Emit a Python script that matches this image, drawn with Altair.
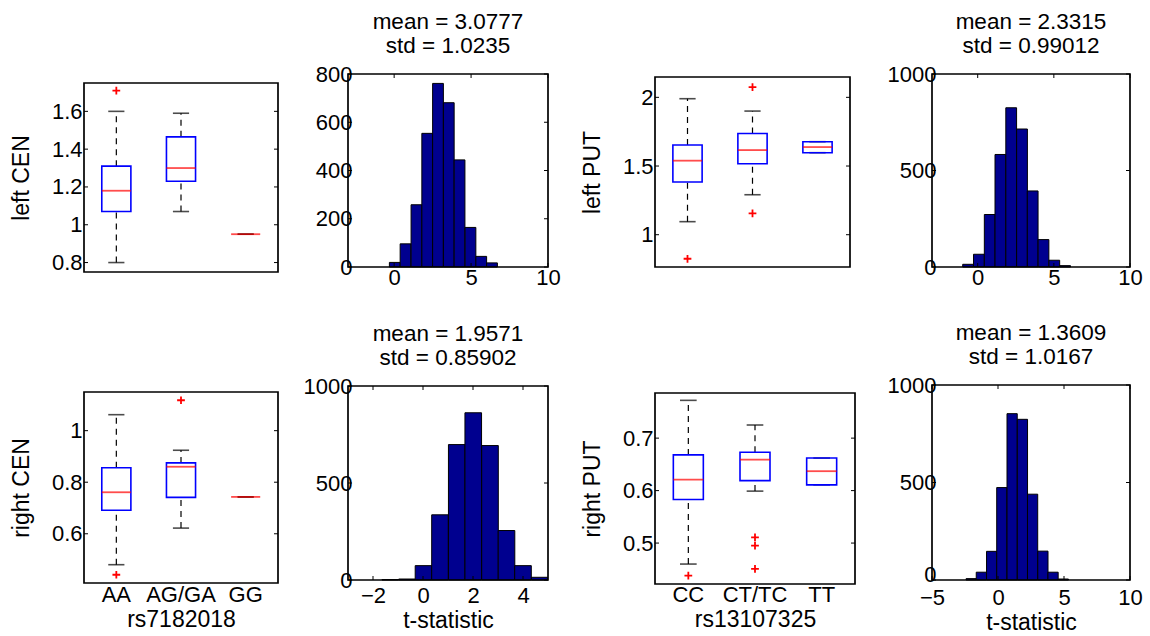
import altair as alt
import pandas as pd

FONT = "Liberation Sans"
TICK_FS = 22
TITLE_FS = 23
HEAD_FS = 22.5
BAR_BLUE = "#00008f"
BOX_BLUE = "#0000ff"
RED = "#ff0000"
PLUS = "M-1,0H1M0,-1V1"
NUM = ".6~g"

# ---------------- genotype groups ----------------
cen_groups = ["AA", "AG/GA", "GG"]
put_groups = ["CC", "CT/TC", "TT"]

# box summaries: lower whisker, q1, median, q3, upper whisker
left_cen_lo = [0.80, 1.07, 0.95]
left_cen_q1 = [1.07, 1.23, 0.95]
left_cen_med = [1.18, 1.30, 0.95]
left_cen_q3 = [1.31, 1.465, 0.95]
left_cen_hi = [1.60, 1.59, 0.95]
left_cen_out_g = ["AA"]
left_cen_out_v = [1.71]

left_put_lo = [1.095, 1.291, 1.597]
left_put_q1 = [1.384, 1.517, 1.597]
left_put_med = [1.539, 1.616, 1.638]
left_put_q3 = [1.653, 1.737, 1.677]
left_put_hi = [1.99, 1.90, 1.677]
left_put_out_g = ["CC", "CT/TC", "CT/TC"]
left_put_out_v = [0.825, 2.075, 1.155]

right_cen_lo = [0.480, 0.622, 0.743]
right_cen_q1 = [0.691, 0.741, 0.743]
right_cen_med = [0.761, 0.860, 0.743]
right_cen_q3 = [0.856, 0.875, 0.743]
right_cen_hi = [1.062, 0.924, 0.743]
right_cen_out_g = ["AA", "AG/GA"]
right_cen_out_v = [0.441, 1.118]

right_put_lo = [0.460, 0.599, 0.611]
right_put_q1 = [0.583, 0.619, 0.611]
right_put_med = [0.621, 0.659, 0.637]
right_put_q3 = [0.668, 0.673, 0.662]
right_put_hi = [0.772, 0.725, 0.662]
right_put_out_g = ["CC", "CT/TC", "CT/TC", "CT/TC"]
right_put_out_v = [0.438, 0.511, 0.495, 0.451]

# ---------------- permutation t-statistic histograms ----------------
lc_centers = [0.04, 0.74, 1.45, 2.15, 2.85, 3.55, 4.25, 4.96, 5.66, 6.36]
lc_counts = [19, 96, 258, 554, 761, 681, 444, 164, 44, 17]
lc_binw = 0.70

lp_centers = [-0.63, 0.08, 0.79, 1.49, 2.20, 2.91, 3.61, 4.32, 5.03, 5.74]
lp_counts = [14, 66, 272, 583, 825, 715, 394, 142, 35, 7]
lp_binw = 0.707

rc_centers = [-1.31, -0.64, 0.02, 0.68, 1.35, 2.01, 2.68, 3.34, 4.00, 4.67]
rc_counts = [2, 5, 74, 336, 698, 862, 693, 255, 74, 14]
rc_binw = 0.664

rp_centers = [-2.03, -1.26, -0.48, 0.29, 1.07, 1.85, 2.62, 3.40, 4.17, 4.95]
rp_counts = [7, 40, 147, 474, 853, 824, 440, 148, 40, 5]
rp_binw = 0.776


def frame_and_ticks(width, ydomain, yscale, yaxis, yticks,
                    xscale=None, xaxis=None, xticks=None, top_px=0, bot_px=0):
    """Axes box plus short inward tick marks on every side."""
    layers = []
    fr = pd.DataFrame({"b": [ydomain[0]], "t": [ydomain[1]]})
    layers.append(
        alt.Chart(fr).mark_rect(fillOpacity=0, stroke="black", strokeWidth=1.7).encode(
            x=alt.value(0), x2=alt.value(width),
            y=alt.Y("b:Q", scale=yscale, axis=yaxis), y2="t:Q")
    )
    yt = pd.DataFrame({"v": yticks})
    for a, b in ((0, 4), (width - 4, width)):
        layers.append(
            alt.Chart(yt).mark_rule(color="black", strokeWidth=1).encode(
                x=alt.value(a), x2=alt.value(b), y=alt.Y("v:Q", scale=yscale, axis=yaxis))
        )
    if xticks is not None:
        xt = pd.DataFrame({"v": xticks})
        for a, b in ((top_px, top_px + 4), (bot_px - 4, bot_px)):
            layers.append(
                alt.Chart(xt).mark_rule(color="black", strokeWidth=1).encode(
                    y=alt.value(a), y2=alt.value(b), x=alt.X("v:Q", scale=xscale, axis=xaxis))
            )
    return layers


def box_panel(groups, lo, q1, med, q3, hi, out_g, out_v, width, height, yrange, ydomain,
              yticks, ytitle, xtitle=None):
    band = width / len(groups)
    df = pd.DataFrame({"g": groups, "lo": lo, "q1": q1, "med": med, "q3": q3, "hi": hi})
    outs = pd.DataFrame({"g": out_g, "v": out_v})
    xscale = alt.Scale(type="band", domain=groups, paddingInner=0, paddingOuter=0)
    yscale = alt.Scale(domain=ydomain, range=yrange, nice=False, zero=False)
    if xtitle is None:
        xaxis = None
    else:
        xaxis = alt.Axis(title=xtitle, labelAngle=0, labelPadding=0, titlePadding=3)
    yaxis = alt.Axis(values=yticks, format=NUM, title=ytitle, titleX=-51, labelPadding=2)
    X = alt.X("g:N", sort=groups, scale=xscale, axis=xaxis)

    def Y(field):
        return alt.Y(field, scale=yscale, axis=yaxis)

    base = alt.Chart(df)
    dash = dict(color="black", strokeWidth=1.2, strokeDash=[6, 5])
    whisk_lo = base.mark_rule(**dash).encode(x=X, y=Y("lo:Q"), y2="q1:Q")
    whisk_hi = base.mark_rule(**dash).encode(x=X, y=Y("q3:Q"), y2="hi:Q")
    cap_lo = base.mark_tick(color="black", size=band * 0.25, thickness=1.6).encode(
        x=X, y=Y("lo:Q"))
    cap_hi = base.mark_tick(color="black", size=band * 0.25, thickness=1.6).encode(
        x=X, y=Y("hi:Q"))
    box = base.transform_filter("datum.q3 > datum.q1").mark_bar(
        fillOpacity=0, stroke=BOX_BLUE, strokeWidth=1.6, width=alt.RelativeBandSize(0.45)
    ).encode(x=X, y=Y("q1:Q"), y2="q3:Q")
    median = base.mark_tick(color=RED, size=band * 0.45, thickness=1.8).encode(
        x=X, y=Y("med:Q"))
    outl = alt.Chart(outs).mark_point(shape=PLUS, color=RED, size=60, strokeWidth=1.8,
                                       filled=False, opacity=1).encode(x=X, y=Y("v:Q"))

    layers = [whisk_lo, whisk_hi, cap_lo, cap_hi, box, median, outl]
    layers += frame_and_ticks(width, ydomain, yscale, yaxis, yticks)
    return alt.layer(*layers).properties(width=width, height=height)


def hist_panel(centers, counts, binw, width, height, xdomain, xticks, yrange, ydomain, yticks,
               title_lines, xtitle=None, xpad=0, tpad=3, zero_lift=0):
    df = pd.DataFrame({"c": centers, "n": counts})
    xscale = alt.Scale(domain=xdomain, nice=False, zero=False)
    yscale = alt.Scale(domain=ydomain, range=yrange, nice=False)
    xaxis = alt.Axis(values=xticks, format=NUM, labelPadding=xpad, titlePadding=tpad,
                     title=xtitle if xtitle else None)
    yaxis = alt.Axis(values=yticks, format=NUM, labelPadding=-4, title=None,
                     labelOffset={"condition": {"test": "datum.value === 0",
                                                "value": -zero_lift}, "value": 0})
    bars = alt.Chart(df).transform_calculate(
        x0=f"datum.c - {binw / 2}", x1=f"datum.c + {binw / 2}", z="0"
    ).mark_rect(fill=BAR_BLUE, stroke="black", strokeWidth=1, clip=True).encode(
        x=alt.X("x0:Q", scale=xscale, axis=xaxis), x2="x1:Q",
        y=alt.Y("n:Q", scale=yscale, axis=yaxis), y2="z:Q")
    layers = [bars] + frame_and_ticks(width, ydomain, yscale, yaxis, yticks,
                                      xscale, xaxis, xticks,
                                      top_px=yrange[1], bot_px=yrange[0])
    return alt.layer(*layers).properties(
        width=width, height=height,
        title=alt.TitleParams(text=title_lines, fontSize=HEAD_FS, font=FONT,
                              fontWeight="normal", anchor="middle", offset=6,
                              lineHeight=24, color="black"))


def spacer(w):
    return alt.Chart(pd.DataFrame({"s": [0]})).mark_point(opacity=0).encode(
        x=alt.X("s:Q", axis=None), y=alt.Y("s:Q", axis=None)).properties(width=w, height=10)


H1, H2 = 198, 199

p1 = box_panel(cen_groups, left_cen_lo, left_cen_q1, left_cen_med, left_cen_q3, left_cen_hi,
               left_cen_out_g, left_cen_out_v, 194, H1, [198, 9], [0.75, 1.75],
               [0.8, 1, 1.2, 1.4, 1.6], "left CEN")
p2 = hist_panel(lc_centers, lc_counts, lc_binw, 200, H1, [-3, 10], [0, 5, 10], [193, 0],
                [0, 800], [0, 200, 400, 600, 800], ["mean = 3.0777", "std = 1.0235"],
                xpad=-5)
p3 = box_panel(put_groups, left_put_lo, left_put_q1, left_put_med, left_put_q3, left_put_hi,
               left_put_out_g, left_put_out_v, 195, H1, [193, 3], [0.765, 2.148],
               [1, 1.5, 2], "left PUT")
p4 = hist_panel(lp_centers, lp_counts, lp_binw, 198, H1, [-3, 10], [0, 5, 10], [193, 0],
                [0, 1000], [0, 500, 1000], ["mean = 2.3315", "std = 0.99012"], xpad=-5)

p5 = box_panel(cen_groups, right_cen_lo, right_cen_q1, right_cen_med, right_cen_q3, right_cen_hi,
               right_cen_out_g, right_cen_out_v, 194, H2, [198, 7], [0.409, 1.150],
               [0.6, 0.8, 1], "right CEN", xtitle="rs7182018")
p6 = hist_panel(rc_centers, rc_counts, rc_binw, 200, H2, [-3, 5], [-2, 0, 2, 4], [195, 1],
                [0, 1000], [0, 500, 1000], ["mean = 1.9571", "std = 0.85902"],
                xtitle="t-statistic", xpad=1, tpad=3)
p7 = box_panel(put_groups, right_put_lo, right_put_q1, right_put_med, right_put_q3, right_put_hi,
               right_put_out_g, right_put_out_v, 200, H2, [199, 8], [0.422, 0.786],
               [0.5, 0.6, 0.7], "right PUT", xtitle="rs13107325")
p8 = hist_panel(rp_centers, rp_counts, rp_binw, 198, H2, [-5, 10], [-5, 0, 5, 10], [195, 0],
                [0, 1000], [0, 500, 1000], ["mean = 1.3609", "std = 1.0167"],
                xtitle="t-statistic", xpad=3, tpad=3, zero_lift=6)

chart = alt.concat(
    p1, spacer(69.5), p2, spacer(106.5), p3, spacer(76.5), p4,
    p5, spacer(69.5), p6, spacer(106.5), p7, spacer(76.5), p8,
    columns=7, spacing=alt.RowColnumber(row=113, column=0), bounds="flush",
).configure_view(stroke=None).configure_axis(
    domain=False, ticks=False, tickSize=0, grid=False, labelFlush=False, labelOverlap=False,
    labelFont=FONT, labelFontSize=TICK_FS, labelColor="black",
    titleFont=FONT, titleFontSize=TITLE_FS, titleFontWeight="normal", titleColor="black",
).properties(
    background="white", padding={"left": 10, "top": 10, "right": 5, "bottom": 5}
)

chart.save("out.html", embed_options={"renderer": "svg", "actions": False})
